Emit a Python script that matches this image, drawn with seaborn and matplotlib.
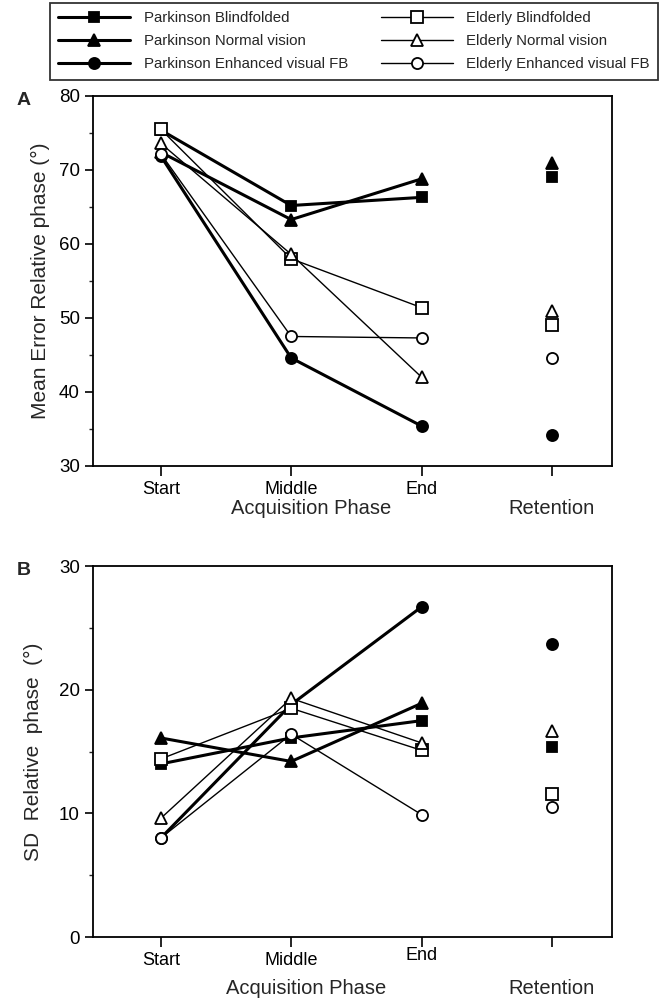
import numpy as np
import pandas as pd
import matplotlib
matplotlib.use("Agg")
import matplotlib.pyplot as plt
import seaborn as sns

# --------------------------------------------
# Data
# --------------------------------------------
phases = ["Start", "Middle", "End"]
groups = ["Parkinson Blindfolded", "Parkinson Normal vision", "Parkinson Enhanced visual FB",
          "Elderly Blindfolded", "Elderly Normal vision", "Elderly Enhanced visual FB"]

# panel A: mean error of relative phase (deg)
mean_pb = [75.4, 65.2, 66.3]
mean_pn = [72.4, 63.3, 68.8]
mean_pe = [71.9, 44.6, 35.4]
mean_eb = [75.5, 58.0, 51.4]
mean_en = [73.6, 58.6, 42.0]
mean_ee = [72.2, 47.5, 47.3]
mean_ret = [69.0, 71.0, 34.2, 49.1, 50.9, 44.6]

# panel B: SD of relative phase (deg)
sd_pb = [14.0, 16.1, 17.5]
sd_pn = [16.1, 14.2, 18.9]
sd_pe = [8.0, 18.8, 26.7]
sd_eb = [14.4, 18.5, 15.1]
sd_en = [9.6, 19.3, 15.7]
sd_ee = [8.0, 16.4, 9.9]
sd_ret = [15.4, np.nan, 23.7, 11.6, 16.7, 10.5]

mean_acq = [mean_pb, mean_pn, mean_pe, mean_eb, mean_en, mean_ee]
sd_acq = [sd_pb, sd_pn, sd_pe, sd_eb, sd_en, sd_ee]

markers = ["s", "^", "o", "s", "^", "o"]
filled = [True, True, True, False, False, False]
sizes = [7.5, 8, 8, 9, 8, 8]

sns.set_style("ticks")
plt.rcParams['font.family'] = ['Liberation Sans', 'DejaVu Sans']

fig = plt.figure(figsize=(6.64, 10.01), dpi=100)
axA = fig.add_axes([0.140, 0.5345, 0.7816, 0.3696])
axB = fig.add_axes([0.140, 0.0639, 0.7816, 0.3706])


def draw_panel(ax, acq, ret):
    for i, g in enumerate(groups):
        df = pd.DataFrame({"x": [0, 1, 2], "y": acq[i]})
        lw = 2.2 if filled[i] else 1.0
        face = "black" if filled[i] else "white"
        sns.lineplot(data=df, x="x", y="y", ax=ax, color="black", linewidth=lw,
                     marker=markers[i], markersize=sizes[i], markerfacecolor=face,
                     markeredgecolor="black", markeredgewidth=1.3, label=g,
                     zorder=3 + i)
        if not np.isnan(ret[i]):
            ax.plot([3], [ret[i]], linestyle="none", marker=markers[i], markersize=sizes[i],
                    markerfacecolor=face, markeredgecolor="black", markeredgewidth=1.3,
                    zorder=3 + i)
    ax.set_xlim(-0.52, 3.46)
    ax.set_xticks([0, 1, 2, 3])
    ax.set_xlabel("")
    for s in ax.spines.values():
        s.set_visible(True)
        s.set_linewidth(1.3)
        s.set_color("black")
    ax.tick_params(axis="both", direction="out", colors="black", labelsize=13, width=1.2)
    ax.tick_params(axis="x", length=7)
    ax.tick_params(axis="y", which="major", length=6, labelsize=13.5)
    ax.tick_params(axis="y", which="minor", length=3, width=1)
    ax.grid(False)


draw_panel(axA, mean_acq, mean_ret)
draw_panel(axB, sd_acq, sd_ret)

handles, labels = axA.get_legend_handles_labels()
axA.get_legend().remove()
axB.get_legend().remove()

# panel A axes
axA.set_ylim(30, 80)
axA.set_yticks([30, 40, 50, 60, 70, 80])
axA.set_yticks(np.arange(35, 80, 10), minor=True)
axA.set_xticklabels(phases + [""])
axA.tick_params(axis="x", pad=4)
axA.set_ylabel("Mean Error Relative phase (°)", fontsize=15, labelpad=6)
axA.text(0.42, -0.115, "Acquisition Phase", transform=axA.transAxes, ha="center",
         va="center", fontsize=14.5)
axA.text(3, -0.115, "Retention", transform=axA.get_xaxis_transform(), ha="center",
         va="center", fontsize=14.5)
fig.text(0.025, 0.900, "A", fontsize=14, fontweight="bold", ha="left", va="center")

# panel B axes
axB.set_ylim(0, 30)
axB.set_yticks([0, 10, 20, 30])
axB.set_yticks([5, 15, 25], minor=True)
axB.set_xticklabels(phases + [""])
axB.tick_params(axis="x", pad=4)
for lbl in axB.get_xticklabels():
    if lbl.get_text() == "End":
        lbl.set_y(0.014)
axB.set_ylabel("SD  Relative  phase  (°)", fontsize=15, labelpad=11)
axB.text(0.41, -0.138, "Acquisition Phase", transform=axB.transAxes, ha="center",
         va="center", fontsize=14.5)
axB.text(3, -0.138, "Retention", transform=axB.get_xaxis_transform(), ha="center",
         va="center", fontsize=14.5)
fig.text(0.025, 0.430, "B", fontsize=14, fontweight="bold", ha="left", va="center")

leg = fig.legend(handles, labels, ncol=2, loc="upper left",
                 bbox_to_anchor=(0.075, 0.920, 0.916, 0.077), mode="expand",
                 frameon=True, fancybox=False, edgecolor="black", fontsize=10.8,
                 handlelength=4.8, borderaxespad=0, labelspacing=0.6, columnspacing=1.5,
                 borderpad=0.55, handletextpad=0.9)
leg.get_frame().set_linewidth(1.3)

fig.savefig("out.png", dpi=100, facecolor="white")
